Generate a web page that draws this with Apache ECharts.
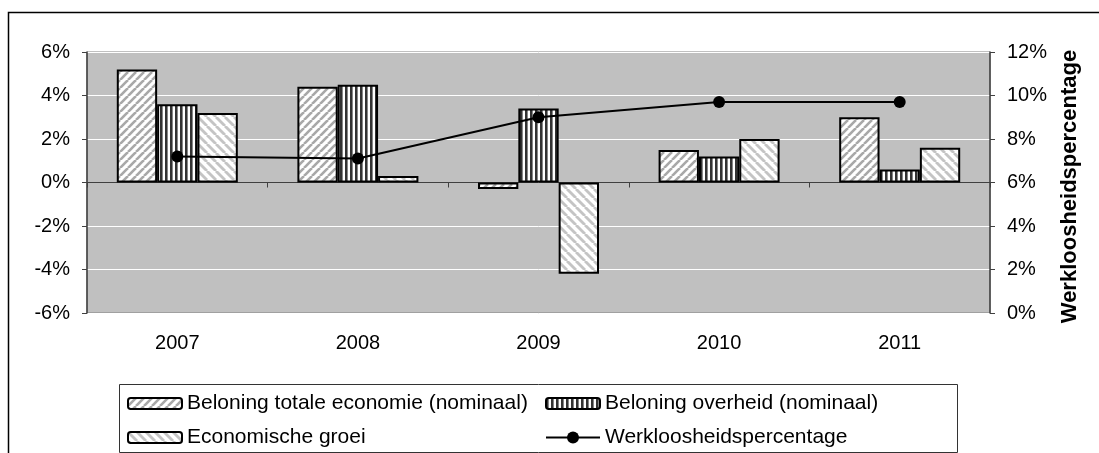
<!DOCTYPE html>
<html><head><meta charset="utf-8">
<script src="https://cdn.jsdelivr.net/npm/echarts@6/dist/echarts.min.js"></script>
<style>html,body{margin:0;padding:0;background:#fff}#c{width:1099px;height:453px}</style>
</head><body><div id="c"></div>
<script>
const categories = ['2007','2008','2009','2010','2011'];
const totaleEconomie = [5.2, 4.4, -0.3, 1.5, 3.0];
const overheid = [3.6, 4.5, 3.4, 1.2, 0.6];
const economischeGroei = [3.2, 0.3, -4.2, 2.0, 1.6];
const werkloosheid = [7.2, 7.1, 9.0, 9.7, 9.7];
const names = ['Beloning totale economie (nominaal)','Beloning overheid (nominaal)','Economische groei','Werkloosheidspercentage'];

function diag(dir, color, size, lw){
  const c=document.createElement('canvas'); c.width=size; c.height=size;
  const g=c.getContext('2d'); g.fillStyle='#fff'; g.fillRect(0,0,size,size);
  g.strokeStyle=color; g.lineWidth=lw;
  for(let k=-1;k<=1;k++){
    g.beginPath();
    if(dir>0){ g.moveTo(k*size, size); g.lineTo(k*size+size, 0); }
    else { g.moveTo(k*size, 0); g.lineTo(k*size+size, size); }
    g.stroke();
  }
  return {image:c, repeat:'repeat'};
}
function vert(){
  const c=document.createElement('canvas'); c.width=5; c.height=5;
  const g=c.getContext('2d'); g.fillStyle='#fff'; g.fillRect(0,0,5,5);
  g.fillStyle='#333'; g.fillRect(0,0,2,5); g.fillStyle='#888'; g.fillRect(2,0,1,5);
  return {image:c, repeat:'repeat'};
}
const patA = diag(1,'#a8a8a8',8,2.6);
const patB = vert();
const patC = diag(-1,'#c4c4c4',9,2.8);

const font = 'Liberation Sans, Arial, sans-serif';
const FS = 20;
const LFS = 21;
const chart = echarts.init(document.getElementById('c'), null, {renderer:'canvas'});
const barBase = {type:'bar', barGap:'0%', barCategoryGap:'33%', xAxisIndex:0, yAxisIndex:0};
function lg(name, left, top, ih){
  return {orient:'horizontal', left:left, top:top, itemWidth:54, itemHeight:ih, itemGap:0, data:[name], textStyle:{fontSize:LFS, fontFamily:font, color:'#000'}};
}
chart.setOption({
  animation:false,
  textStyle:{fontFamily:font, color:'#000'},
  grid:{left:87, right:109, top:52, bottom:140, show:true, backgroundColor:'#c0c0c0', borderColor:'#808080', borderWidth:1},
  legend:[
    lg(names[0], 122, 388, 11),
    lg(names[1], 540, 388, 11),
    lg(names[2], 122, 422, 11),
    lg(names[3], 540, 422, 15)
  ],
  xAxis:[
    {type:'category', data:categories, position:'bottom', axisLine:{show:false}, axisTick:{show:false}, axisLabel:{fontSize:FS, margin:20, color:'#000', fontFamily:font}, splitLine:{show:false}},
    {type:'category', data:categories, position:'bottom', axisLine:{onZero:true, onZeroAxisIndex:0, lineStyle:{color:'#404040', width:1}}, axisTick:{show:true, length:5, lineStyle:{color:'#404040'}}, axisLabel:{show:false}, splitLine:{show:false}}
  ],
  yAxis:[
    {type:'value', min:-6, max:6, interval:2, position:'left', axisLine:{show:true, lineStyle:{color:'#404040', width:1.5}}, axisTick:{show:true, length:5, lineStyle:{color:'#404040'}}, axisLabel:{formatter:'{value}%', fontSize:FS, margin:17, color:'#000', fontFamily:font}, splitLine:{show:true, lineStyle:{color:'#ffffff', width:1}}},
    {type:'value', min:0, max:12, interval:2, position:'right', name:'Werkloosheidspercentage', nameLocation:'middle', nameRotate:90, nameGap:69, nameTextStyle:{fontSize:22, fontWeight:'bold', color:'#000', fontFamily:font, padding:[0,8,0,0]}, axisLine:{show:true, lineStyle:{color:'#404040', width:1.5}}, axisTick:{show:true, length:5, lineStyle:{color:'#404040'}}, axisLabel:{formatter:'{value}%', fontSize:FS, margin:17, color:'#000', fontFamily:font}, splitLine:{show:false}}
  ],
  series:[
    Object.assign({}, barBase, {name:names[0], data:totaleEconomie, itemStyle:{color:patA, borderColor:'#000', borderWidth:2}}),
    Object.assign({}, barBase, {name:names[1], data:overheid, itemStyle:{color:patB, borderColor:'#000', borderWidth:2}}),
    Object.assign({}, barBase, {name:names[2], data:economischeGroei, itemStyle:{color:patC, borderColor:'#000', borderWidth:2}}),
    {type:'line', name:names[3], data:werkloosheid, xAxisIndex:0, yAxisIndex:1, symbol:'circle', symbolSize:12, lineStyle:{color:'#000', width:2}, itemStyle:{color:'#000'}, z:5}
  ],
  graphic:[
    {type:'rect', shape:{x:8.5, y:12.5, width:1100, height:460}, style:{fill:null, stroke:'#000', lineWidth:1.5}, silent:true, z:-1},
    {type:'rect', shape:{x:119.5, y:384.5, width:838, height:68}, style:{fill:null, stroke:'#333', lineWidth:1}, silent:true}
  ]
});
</script></body></html>
